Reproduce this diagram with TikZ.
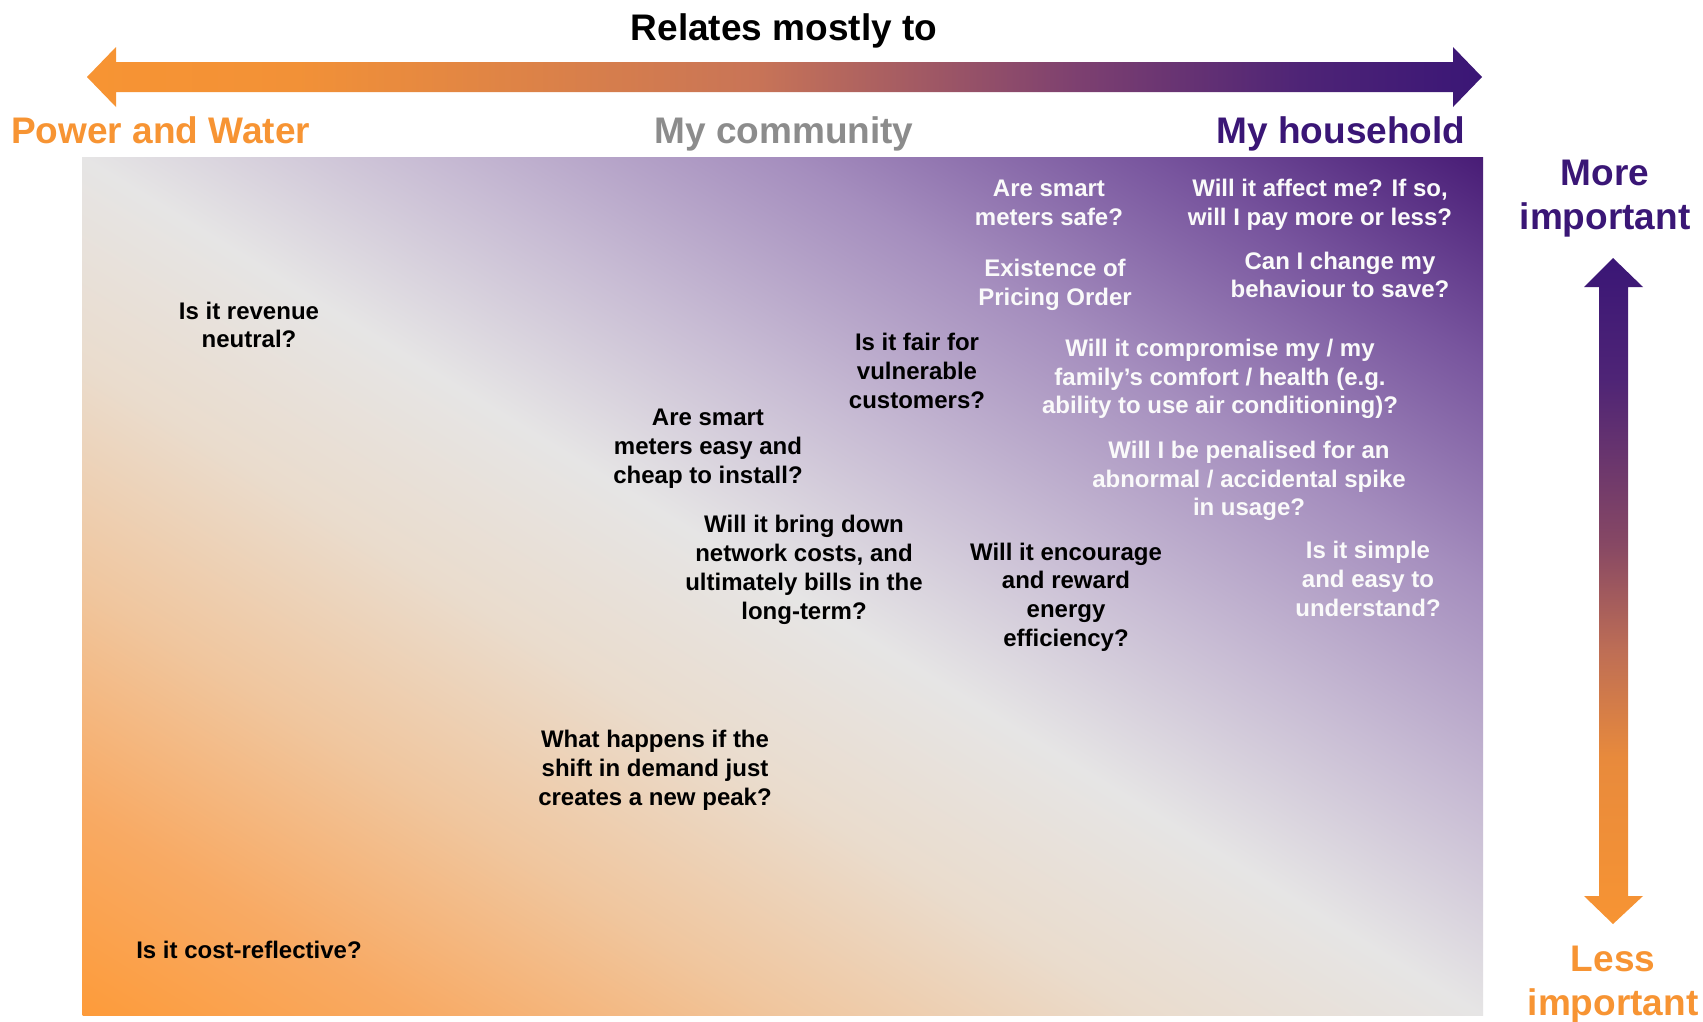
\documentclass[tikz,border=0pt]{standalone}
\usepackage{fontspec}
\setmainfont{Liberation Sans}

% palette
\definecolor{pwOrange}{RGB}{247,148,51}
\definecolor{hhPurple}{RGB}{58,22,118}
\definecolor{commGray}{RGB}{140,140,140}
\definecolor{qWhite}{RGB}{250,250,250}
% panel gradient stops
\definecolor{pnA}{RGB}{253,155,58}
\definecolor{pnB}{RGB}{248,170,100}
\definecolor{pnC}{RGB}{240,198,158}
\definecolor{pnD}{RGB}{234,220,205}
\definecolor{pnE}{RGB}{230,229,229}
\definecolor{pnF}{RGB}{200,188,212}
\definecolor{pnG}{RGB}{165,142,190}
\definecolor{pnH}{RGB}{120,85,158}
\definecolor{pnI}{RGB}{72,28,118}
% arrow gradient stops
\definecolor{arOrangeB}{RGB}{242,145,55}
\definecolor{arMid}{RGB}{200,116,87}
\definecolor{arMauve}{RGB}{125,64,112}
\definecolor{arDeep}{RGB}{78,36,118}
\definecolor{arRust}{RGB}{190,110,85}
\definecolor{arWarm}{RGB}{232,138,60}
\definecolor{arPlum}{RGB}{135,72,100}

% panel: orange bottom-left, grey band along the diagonal, purple top-right
\pgfdeclareverticalshading{panelshade}{100bp}{%
  color(0bp)=(pnA); color(25bp)=(pnA); color(31bp)=(pnB);
  color(37.5bp)=(pnC); color(44bp)=(pnD); color(50bp)=(pnE);
  color(56bp)=(pnF); color(62.5bp)=(pnG); color(69bp)=(pnH);
  color(75bp)=(pnI); color(100bp)=(pnI)}
% horizontal scale arrow
\pgfdeclarehorizontalshading{scaleshade}{100bp}{%
  color(0bp)=(pwOrange); color(25bp)=(pwOrange);
  color(32.5bp)=(arOrangeB); color(49bp)=(arMid);
  color(60.5bp)=(arMauve); color(68.5bp)=(arDeep);
  color(75bp)=(hhPurple); color(100bp)=(hhPurple)}
% vertical importance arrow
\pgfdeclareverticalshading{impshade}{100bp}{%
  color(0bp)=(pwOrange); color(25bp)=(pwOrange);
  color(37.5bp)=(arWarm); color(45.5bp)=(arRust);
  color(53.5bp)=(arPlum); color(66bp)=(arDeep);
  color(75bp)=(hhPurple); color(100bp)=(hhPurple)}

\tikzset{
  headline/.style={font=\bfseries\fontsize{37}{44}\selectfont, inner sep=0pt},
  qtext/.style={font=\bfseries\fontsize{24}{28.8}\selectfont, align=center, inner sep=0pt},
  qlight/.style={qtext, text=qWhite},
  qdark/.style={qtext, text=black},
}

\begin{document}
\begin{tikzpicture}[x=1pt,y=-1pt]
\useasboundingbox (0,0) rectangle (1703,1021);
\fill[white] (0,0) rectangle (1703,1021);

% shaded panel: the gradient runs across the top-left/bottom-right diagonal
\begin{scope}
  \clip (82,157) rectangle (1483,1015);
  \begin{scope}[transform canvas={shift={(782.5,586)}, rotate=-31.48}]
    \shade[shading=panelshade] (-822,-731.7) rectangle (822,731.7);
  \end{scope}
\end{scope}

% horizontal double arrow
\shade[shading=scaleshade]
  (87,77) -- (116,47) -- (116,62) -- (1453,62) -- (1453,47) -- (1482,77)
  -- (1453,107) -- (1453,92) -- (116,92) -- (116,107) -- cycle;

% vertical double arrow
\shade[shading=impshade]
  (1613,258) -- (1643,287) -- (1628,287) -- (1628,896) -- (1643,896)
  -- (1613,924) -- (1584,896) -- (1599,896) -- (1599,287) -- (1584,287) -- cycle;

% axis labels
\node[headline, anchor=base] (title) at (784,40) {Relates mostly to};
\node[headline, anchor=base west, text=pwOrange] (pw) at (11,143) {Power and Water};
\node[headline, anchor=base, text=commGray] (comm) at (784,143) {My community};
\node[headline, anchor=base, text=hhPurple] (home) at (1341,143) {My household};
\node[headline, align=center, text=hhPurple] (more) at (1605,199) {More\\important};
\node[headline, align=center, text=pwOrange] (less) at (1613,985) {Less\\important};

% questions
\node[qlight] (q1) at (1049,203) {Are smart\\meters safe?};
\node[qlight] (q2) at (1320,205) {Will it affect me? If so,\\will I pay more or less?};
\node[qlight] (q3) at (1055,285) {Existence of\\Pricing Order};
\node[qlight] (q4) at (1340,275) {Can I change my\\behaviour to save?};
\node[qdark] (q5) at (249,325) {Is it revenue\\neutral?};
\node[qdark] (q6) at (917,371) {Is it fair for\\vulnerable\\customers?};
\node[qlight] (q7) at (1220,379) {Will it compromise my / my\\family’s comfort / health (e.g.\\ability to use air conditioning)?};
\node[qdark] (q8) at (708,449) {Are smart\\meters easy and\\cheap to install?};
\node[qlight] (q9) at (1249,481) {Will I be penalised for an\\abnormal / accidental spike\\in usage?};
\node[qdark] (q10) at (804,570) {Will it bring down\\network costs, and\\ultimately bills in the\\long-term?};
\node[qdark] (q11) at (1066,597) {Will it encourage\\and reward\\energy\\efficiency?};
\node[qlight] (q12) at (1368,579) {Is it simple\\and easy to\\understand?};
\node[qdark] (q13) at (655,770) {What happens if the\\shift in demand just\\creates a new peak?};
\node[qdark] (q14) at (249,950) {Is it cost-reflective?};
\end{tikzpicture}
\end{document}
